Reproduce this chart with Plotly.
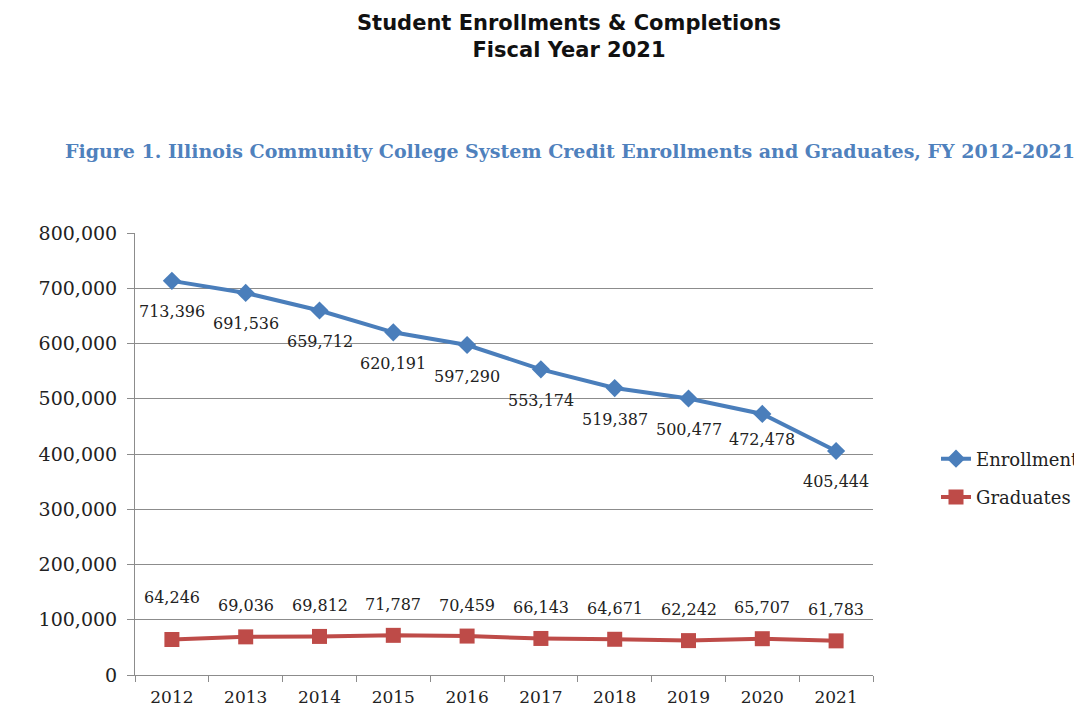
import plotly.graph_objects as go

years = ["2012", "2013", "2014", "2015", "2016", "2017", "2018", "2019", "2020", "2021"]
enrollment = [713396, 691536, 659712, 620191, 597290, 553174, 519387, 500477, 472478, 405444]
graduates = [64246, 69036, 69812, 71787, 70459, 66143, 64671, 62242, 65707, 61783]
y_ticks = [0, 100000, 200000, 300000, 400000, 500000, 600000, 700000, 800000]

BLUE = "#4A7EBB"
RED = "#BE4B48"
SERIF = "DejaVu Serif"
TXT = "#222222"

# plot area in figure pixels (figure is a bit wider than the window so the legend is clipped like the original)
W, H = 1100, 718
L, T, B = 127, 225, 51
R = W - 865
PW, PH = W - L - R, H - T - B

def px(xf):
    return (xf - L) / PW

def py(yf):
    return (H - B - yf) / PH

fig = go.Figure()
fig.add_trace(go.Scatter(
    x=years, y=enrollment, name="Enrollment", mode="lines+markers",
    legendgroup="e",
    line=dict(color=BLUE, width=4),
    marker=dict(symbol="diamond", size=14, color=BLUE),
))
fig.add_trace(go.Scatter(
    x=years, y=graduates, name="Graduates", mode="lines+markers",
    legendgroup="g",
    line=dict(color=RED, width=4),
    marker=dict(symbol="square", size=15, color=RED),
))

label_font = dict(family=SERIF, size=16, color=TXT)
annotations = []
for i, (yr, v) in enumerate(zip(years, enrollment)):
    annotations.append(dict(x=i, y=v, xref="x", yref="y", text=f"{v:,}", showarrow=False,
                            yshift=(-26 if yr == "2020" else -31), font=label_font))
for i, (yr, v) in enumerate(zip(years, graduates)):
    annotations.append(dict(x=i, y=v, xref="x", yref="y", text=f"{v:,}", showarrow=False,
                            yshift=(42 if yr == "2012" else 31), font=label_font))

annotations.append(dict(
    text="<b>Student Enrollments & Completions</b><br><b>Fiscal Year 2021</b>",
    xref="paper", yref="paper", x=px(561), y=py(28.5),
    xanchor="center", yanchor="middle", showarrow=False,
    font=dict(family="DejaVu Sans", size=21, color="#111111")))
annotations.append(dict(
    text="<b>Figure 1. Illinois Community College System Credit Enrollments and Graduates, FY 2012-2021</b>",
    xref="paper", yref="paper", x=px(562), y=py(143),
    xanchor="center", yanchor="middle", showarrow=False,
    font=dict(family=SERIF, size=19, color="#4F81BD")))

fig.update_layout(
    width=W, height=H,
    margin=dict(l=L, r=R, t=T, b=B),
    paper_bgcolor="white", plot_bgcolor="white",
    showlegend=True,
    legend=dict(x=px(928), y=py(470), xanchor="left", yanchor="middle",
                font=dict(family=SERIF, size=18, color=TXT),
                tracegroupgap=12, itemwidth=30),
    annotations=annotations,
)

fig.update_xaxes(
    type="category", range=[-0.5, 9.5], showgrid=False, showline=True,
    linecolor="#8c8c8c", linewidth=1,
    ticks="outside", tickson="boundaries", ticklen=6, tickcolor="#8c8c8c",
    ticklabelstandoff=7,
    tickfont=dict(family=SERIF, size=17, color=TXT),
)
fig.update_yaxes(
    range=[0, 800000], tickvals=y_ticks, tickformat=",",
    showgrid=True, gridcolor="#8c8c8c", gridwidth=1,
    showline=True, linecolor="#8c8c8c", linewidth=1,
    ticks="outside", ticklen=7, tickcolor="#8c8c8c",
    ticklabelstandoff=6,
    tickfont=dict(family=SERIF, size=19, color=TXT),
    zeroline=False,
)

fig.write_html("out.html")
